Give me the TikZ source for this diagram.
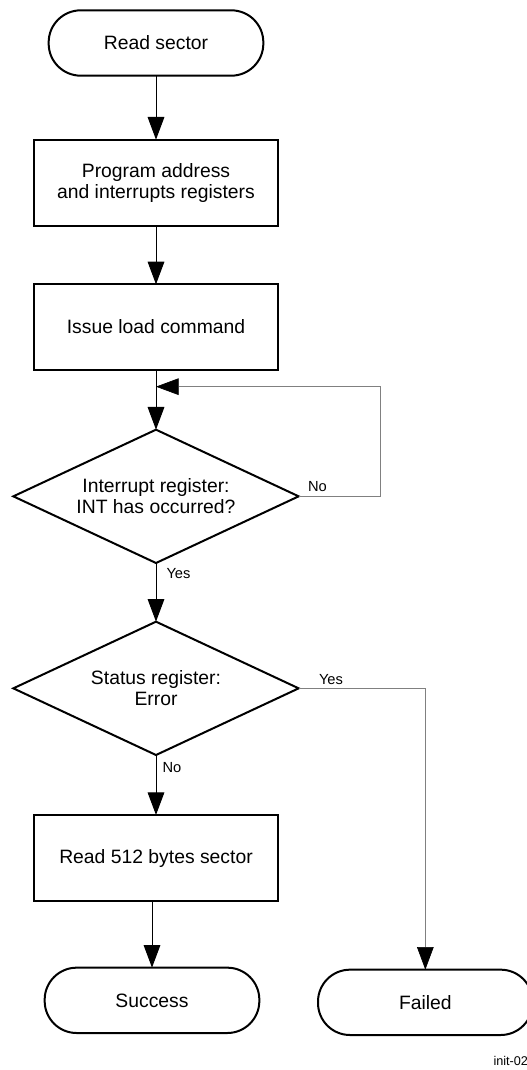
\documentclass[tikz,border=0pt]{standalone}
\usepackage{fontspec}
\setmainfont{Liberation Sans}
\usetikzlibrary{arrows.meta, positioning, shapes.geometric}

\begin{document}
\begin{tikzpicture}[
    >={Triangle[length=17pt, width=12.5pt, color=black]}, line width=0.75pt,
    term/.style={draw, line width=1.5pt, rounded corners=24pt, outer sep=0pt,
                 minimum width=161pt, minimum height=49pt,
                 font=\fontsize{14.5}{16}\selectfont},
    proc/.style={draw, line width=1.5pt, align=center, outer sep=0pt,
                 minimum width=183pt, minimum height=65pt,
                 font=\fontsize{14.5}{16}\selectfont},
    decide/.style={draw, diamond, aspect=2.14, inner sep=0pt, outer sep=0pt,
                   line width=1.5pt, minimum width=214pt, minimum height=100pt,
                   align=center, font=\fontsize{14.5}{16}\selectfont},
    lbl/.style={inner sep=0pt, font=\fontsize{11}{13}\selectfont},
    back/.style={draw=gray, line width=0.5pt}
  ]
  \useasboundingbox (0,0) rectangle (395.25pt,-802.5pt);

  \node[term] (start) at (117pt,-32.25pt) {Read sector};
  \node[proc, below=48pt of start] (prog)
    {Program address\\and interrupts registers};
  \node[proc, below=43.5pt of prog, minimum height=64pt] (issue)
    {Issue load command};
  \coordinate[below=12.75pt of issue] (merge);
  \node[decide, below=45pt of issue] (intq)
    {Interrupt register:\\INT has occurred?};
  \node[decide, below=44pt of intq] (errq) {Status register:\\Error};
  \node[proc, below=45pt of errq, minimum height=64.5pt] (rdsec)
    {Read 512 bytes sector};
  \node[term, below=50pt of rdsec, xshift=-3pt] (succ) {Success};
  \node[term, right=44pt of succ, yshift=-1.5pt] (fail) {Failed};

  \draw[->] (start) -- (prog);
  \draw[->] (prog) -- (issue);
  \draw[->] (issue) -- (intq);
  \draw[back, ->] (intq.east)
    -- node[lbl, pos=0, above right=3.5pt and 6.75pt] {No} ++(61.5pt,0)
    |- (merge);
  \draw[->] (intq.south)
    -- node[lbl, pos=0, below right=3.5pt and 7.5pt] {Yes} (errq.north);
  \draw[->] (errq.south)
    -- node[lbl, pos=0, below right=5pt and 4.5pt] {No} (rdsec.north);
  \draw[back, ->] (errq.east)
    -- node[lbl, pos=0, above right=2.75pt and 15pt] {Yes} (errq.east -| fail.north)
    -- (fail.north);
  \draw[->] (succ.north |- rdsec.south) -- (succ.north);

  \node[lbl, anchor=west, font=\fontsize{9.5}{11}\selectfont] (tag)
    at (369.75pt,-796pt) {init-02};
\end{tikzpicture}
\end{document}
